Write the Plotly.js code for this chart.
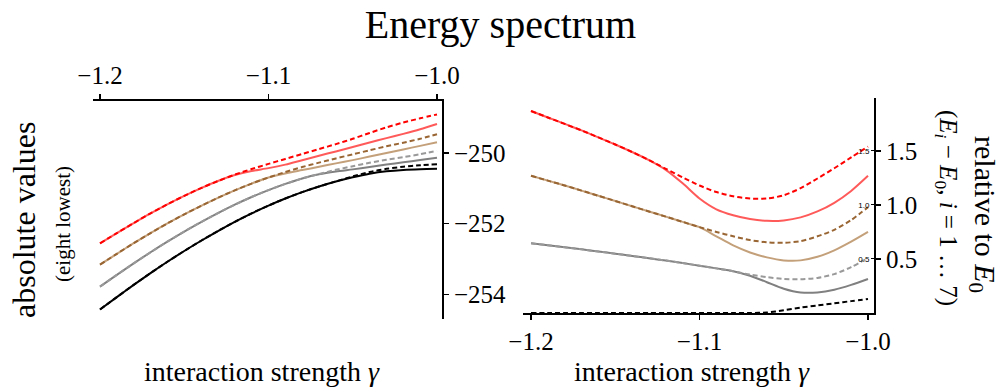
<!DOCTYPE html>
<html>
<head>
<meta charset="utf-8">
<script src="https://cdn.plot.ly/plotly-3.0.1.min.js"></script>
<style>
html,body{margin:0;padding:0;background:#fff;}
#chart{width:1001px;height:387px;}
</style>
</head>
<body>
<div id="chart"></div>
<script>
// interaction strength gamma
const gamma = [-1.20,-1.19,-1.18,-1.17,-1.16,-1.15,-1.14,-1.13,-1.12,-1.11,-1.10,-1.09,-1.08,-1.07,-1.06,-1.05,-1.04,-1.03,-1.02,-1.01,-1.00];

// absolute energies (eight lowest)
const absE0 = [-254.43,-254.08,-253.735,-253.40,-253.08,-252.775,-252.485,-252.21,-251.95,-251.71,-251.49,-251.29,-251.11,-250.95,-250.81,-250.69,-250.59,-250.52,-250.48,-250.46,-250.45];
const absE1 = [-254.43,-254.08,-253.735,-253.40,-253.08,-252.775,-252.485,-252.21,-251.95,-251.71,-251.49,-251.29,-251.11,-250.95,-250.805,-250.665,-250.54,-250.45,-250.39,-250.35,-250.32];
const absE2 = [-253.785,-253.453,-253.127,-252.811,-252.511,-252.226,-251.957,-251.703,-251.465,-251.248,-251.052,-250.877,-250.723,-250.605,-250.525,-250.465,-250.40,-250.33,-250.265,-250.20,-250.135];
const absE3 = [-253.785,-253.453,-253.127,-252.811,-252.511,-252.226,-251.957,-251.703,-251.465,-251.248,-251.052,-250.877,-250.723,-250.595,-250.478,-250.375,-250.278,-250.195,-250.12,-250.035,-249.94];
const absE4 = [-253.16,-252.855,-252.555,-252.267,-251.995,-251.738,-251.497,-251.27,-251.058,-250.867,-250.695,-250.58,-250.485,-250.39,-250.295,-250.203,-250.103,-250.00,-249.90,-249.80,-249.70];
const absE5 = [-253.16,-252.855,-252.555,-252.267,-251.995,-251.738,-251.497,-251.27,-251.058,-250.867,-250.695,-250.54,-250.40,-250.275,-250.155,-250.04,-249.925,-249.81,-249.71,-249.60,-249.47];
const absE6 = [-252.56,-252.27,-251.985,-251.71,-251.455,-251.215,-250.995,-250.795,-250.625,-250.51,-250.43,-250.33,-250.205,-250.08,-249.957,-249.833,-249.705,-249.58,-249.46,-249.33,-249.18];
const absE7 = [-252.56,-252.27,-251.985,-251.71,-251.455,-251.215,-250.995,-250.795,-250.615,-250.455,-250.31,-250.17,-250.03,-249.89,-249.75,-249.60,-249.435,-249.275,-249.14,-249.02,-248.91];

// relative energies E_i - E_0, i = 1..7
const relE1 = [0,0,0,0,0,0,0,0,0,0,0,0,0,0,0.005,0.025,0.05,0.07,0.09,0.11,0.13];
const relE2 = [0.645,0.627,0.608,0.589,0.569,0.549,0.528,0.507,0.485,0.462,0.438,0.413,0.387,0.345,0.285,0.225,0.19,0.19,0.215,0.26,0.315];
const relE3 = [0.645,0.627,0.608,0.589,0.569,0.549,0.528,0.507,0.485,0.462,0.438,0.413,0.387,0.355,0.332,0.315,0.312,0.325,0.36,0.425,0.51];
const relE4 = [1.27,1.225,1.18,1.133,1.085,1.037,0.988,0.94,0.892,0.843,0.795,0.71,0.625,0.56,0.515,0.487,0.487,0.52,0.58,0.66,0.75];
const relE5 = [1.27,1.225,1.18,1.133,1.085,1.037,0.988,0.94,0.892,0.843,0.795,0.75,0.71,0.675,0.655,0.65,0.665,0.71,0.77,0.86,0.98];
const relE6 = [1.87,1.81,1.75,1.69,1.625,1.56,1.49,1.415,1.325,1.20,1.06,0.96,0.905,0.87,0.853,0.857,0.885,0.94,1.02,1.13,1.27];
const relE7 = [1.87,1.81,1.75,1.69,1.625,1.56,1.49,1.415,1.335,1.255,1.18,1.12,1.08,1.06,1.06,1.09,1.155,1.245,1.34,1.44,1.54];

// tick values
const xTicks = [-1.2,-1.1,-1.0];
const absTicks = [-250,-252,-254];
const relTicks = [0.5,1.0,1.5];

const styles = [
  {color:'#000000', dash:'solid'},
  {color:'#000000', dash:'5px,3px'},
  {color:'#808080', dash:'solid'},
  {color:'#999999', dash:'5px,3px'},
  {color:'#c4a07a', dash:'solid'},
  {color:'#996633', dash:'5px,3px'},
  {color:'#ff5a5a', dash:'solid'},
  {color:'#ff0000', dash:'5px,3px'}
];
const absSeries = [absE0,absE1,absE2,absE3,absE4,absE5,absE6,absE7];
const relSeries = [null,relE1,relE2,relE3,relE4,relE5,relE6,relE7];
const order = [0,2,4,6,1,3,5,7];

const traces = [];
order.forEach(i => {
  traces.push({x:gamma, y:absSeries[i], xaxis:'x', yaxis:'y', mode:'lines',
    line:{color:styles[i].color, dash:styles[i].dash, width:2, shape:'spline', smoothing:0.8},
    hoverinfo:'skip', showlegend:false});
});
order.forEach(i => {
  if (!relSeries[i]) return;
  traces.push({x:gamma, y:relSeries[i], xaxis:'x2', yaxis:'y2', mode:'lines',
    line:{color:styles[i].color, dash:styles[i].dash, width:2, shape:'spline', smoothing:0.8},
    hoverinfo:'skip', showlegend:false});
});
// invisible trace to hold the small inner-label axis
traces.push({x:[gamma[0]], y:[relTicks[0]], xaxis:'x2', yaxis:'y3', mode:'markers',
  marker:{opacity:0}, hoverinfo:'skip', showlegend:false});

const serif = '"Liberation Serif", "DejaVu Serif", serif';
const tickFont = {family:serif, size:25, color:'#000'};
const W = 1001, H = 387;
const px = v => v / W, py = v => 1 - v / H;

const axisCommon = {showgrid:false, zeroline:false, showline:true, linecolor:'#000', linewidth:2,
  ticks:'outside', ticklen:5, tickwidth:1.5, tickcolor:'#000', tickfont:tickFont, automargin:false};

const layout = {
  width:W, height:H,
  margin:{l:0, r:0, t:0, b:0},
  paper_bgcolor:'#fff', plot_bgcolor:'#fff',
  title:{text:'Energy spectrum', x:0.5, xanchor:'center', y:py(24), yanchor:'middle',
    font:{family:serif, size:40, color:'#000'}},
  xaxis:Object.assign({}, axisCommon, {domain:[px(93), px(442)], range:[-1.20415,-0.99703],
    side:'top', anchor:'y', tickvals:xTicks, tickformat:'.1f'}),
  yaxis:Object.assign({}, axisCommon, {domain:[1-319/H, 1-101/H], range:[-254.70,-248.53],
    side:'right', anchor:'x', tickvals:absTicks, tickformat:'d'}),
  xaxis2:Object.assign({}, axisCommon, {domain:[px(523), px(874)], range:[-1.20475,-0.99644],
    side:'bottom', anchor:'y2', tickvals:xTicks, tickformat:'.1f'}),
  yaxis2:Object.assign({}, axisCommon, {domain:[1-313/H, 1-98/H], range:[0,1.99],
    side:'right', anchor:'x2', tickvals:relTicks, tickformat:'.1f'}),
  yaxis3:{overlaying:'y2', anchor:'free', position:px(874), side:'left', range:[0,1.99], showgrid:false, zeroline:false,
    showline:false, tickvals:relTicks, tickformat:'.1f', ticks:'outside',
    ticklen:3, tickwidth:1, tickcolor:'#000', tickfont:{family:'"Liberation Sans", sans-serif', size:8, color:'#000'}, automargin:false},
  annotations:[
    {text:'absolute values', xref:'paper', yref:'paper', x:px(24), y:py(220), xanchor:'center', yanchor:'middle',
      textangle:-90, showarrow:false, font:{family:serif, size:32, color:'#000'}},
    {text:'(eight lowest)', xref:'paper', yref:'paper', x:px(63), y:py(224), xanchor:'center', yanchor:'middle',
      textangle:-90, showarrow:false, font:{family:serif, size:21, color:'#000'}},
    {text:'interaction strength <i>γ</i>', xref:'paper', yref:'paper', x:px(262), y:py(371), xanchor:'center', yanchor:'middle',
      showarrow:false, font:{family:serif, size:28, color:'#000'}},
    {text:'interaction strength <i>γ</i>', xref:'paper', yref:'paper', x:px(692), y:py(371), xanchor:'center', yanchor:'middle',
      showarrow:false, font:{family:serif, size:28, color:'#000'}},
    {text:'relative to <i>E</i><sub>0</sub>', xref:'paper', yref:'paper', x:px(983), y:py(214), xanchor:'center', yanchor:'middle',
      textangle:90, showarrow:false, font:{family:serif, size:30, color:'#000'}},
    {text:'(<i>E<sub>i</sub></i> − <i>E</i><sub>0</sub>, <i>i</i> = 1 … 7)', xref:'paper', yref:'paper', x:px(947), y:py(208), xanchor:'center', yanchor:'middle',
      textangle:90, showarrow:false, font:{family:serif, size:25, color:'#000'}}
  ]
};

Plotly.newPlot('chart', traces, layout, {displayModeBar:false, staticPlot:true});
</script>
</body>
</html>
